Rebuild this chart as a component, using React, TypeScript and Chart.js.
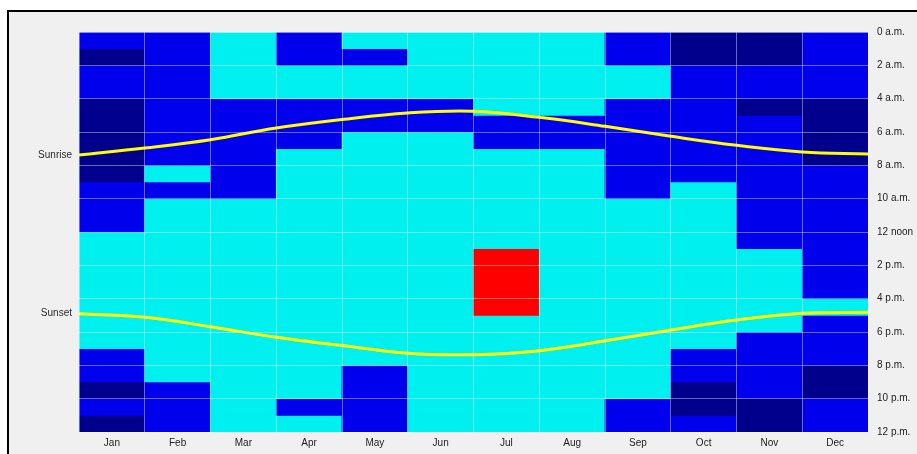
import React, { useEffect, useRef } from "react";
import { Chart, registerables } from "chart.js";

Chart.register(...registerables);

// Month columns and the hour labels on the right-hand axis (every 2 hours)
const months = ["Jan", "Feb", "Mar", "Apr", "May", "Jun", "Jul", "Aug", "Sep", "Oct", "Nov", "Dec"];
const hourLabels = [
  "0 a.m.", "2 a.m.", "4 a.m.", "6 a.m.", "8 a.m.", "10 a.m.", "12 noon",
  "2 p.m.", "4 p.m.", "6 p.m.", "8 p.m.", "10 p.m.", "12 p.m.",
];

// Hourly zone for each month, hour 0 .. 23
// 0 = comfortable, 1 = cool, 2 = cold, 3 = hot
const jan = [1, 2, 1, 1, 2, 2, 2, 2, 2, 1, 1, 1, 0, 0, 0, 0, 0, 0, 0, 1, 1, 2, 1, 2];
const feb = [1, 1, 1, 1, 1, 1, 1, 1, 0, 1, 0, 0, 0, 0, 0, 0, 0, 0, 0, 0, 0, 1, 1, 1];
const mar = [0, 0, 0, 0, 1, 1, 1, 1, 1, 1, 0, 0, 0, 0, 0, 0, 0, 0, 0, 0, 0, 0, 0, 0];
const apr = [1, 1, 0, 0, 1, 1, 1, 0, 0, 0, 0, 0, 0, 0, 0, 0, 0, 0, 0, 0, 0, 0, 1, 0];
const may = [0, 1, 0, 0, 1, 1, 0, 0, 0, 0, 0, 0, 0, 0, 0, 0, 0, 0, 0, 0, 1, 1, 1, 1];
const jun = [0, 0, 0, 0, 1, 1, 0, 0, 0, 0, 0, 0, 0, 0, 0, 0, 0, 0, 0, 0, 0, 0, 0, 0];
const jul = [0, 0, 0, 0, 0, 1, 1, 0, 0, 0, 0, 0, 0, 3, 3, 3, 3, 0, 0, 0, 0, 0, 0, 0];
const aug = [0, 0, 0, 0, 0, 1, 1, 0, 0, 0, 0, 0, 0, 0, 0, 0, 0, 0, 0, 0, 0, 0, 0, 0];
const sep = [1, 1, 0, 0, 1, 1, 1, 1, 1, 1, 0, 0, 0, 0, 0, 0, 0, 0, 0, 0, 0, 0, 1, 1];
const oct = [2, 2, 1, 1, 1, 1, 1, 1, 1, 0, 0, 0, 0, 0, 0, 0, 0, 0, 0, 1, 1, 2, 2, 1];
const nov = [2, 2, 1, 1, 2, 1, 1, 1, 1, 1, 1, 1, 1, 0, 0, 0, 0, 0, 1, 1, 1, 1, 2, 2];
const dec = [1, 1, 1, 1, 2, 2, 2, 2, 1, 1, 1, 1, 1, 1, 1, 1, 0, 1, 1, 1, 2, 2, 1, 1];

// Sunrise / sunset time (decimal hours) at each month boundary, Jan 1 .. Dec 31
const sunrise = [7.38, 6.96, 6.46, 5.76, 5.25, 4.86, 4.76, 5.12, 5.66, 6.26, 6.8, 7.2, 7.32];
const sunset = [16.9, 17.12, 17.68, 18.32, 18.81, 19.28, 19.36, 19.12, 18.53, 17.88, 17.28, 16.88, 16.82];

const monthZones = [jan, feb, mar, apr, may, jun, jul, aug, sep, oct, nov, dec];
const zoneColors = ["#00F0F0", "#0000EC", "#00008C", "#FF0000"];

const FONT = '"Liberation Sans", Arial, sans-serif';

// Writes the line names ("Sunrise", "Sunset") just left of where each line starts
const lineNames = {
  id: "lineNames",
  afterDatasetsDraw(chart: any) {
    const ctx = chart.ctx;
    chart.data.datasets.forEach((ds: any, i: number) => {
      if (ds.type !== "line") return;
      const first = chart.getDatasetMeta(i).data[0];
      if (!first) return;
      ctx.save();
      ctx.font = `10px ${FONT}`;
      ctx.fillStyle = "#2a2a2a";
      ctx.textAlign = "right";
      ctx.textBaseline = "middle";
      ctx.fillText(ds.label, first.x - 7, first.y);
      ctx.restore();
    });
  },
};

export default function App() {
  const canvasRef = useRef<HTMLCanvasElement>(null);

  useEffect(() => {
    const canvas = canvasRef.current;
    if (!canvas) return;

    const hours = Array.from({ length: 24 }, (_, h) => h);

    // one floating-bar dataset per hour row, coloured per month
    const cellSets = hours.map((h) => ({
      type: "bar",
      label: `h${h}`,
      data: months.map(() => [h, h + 1]),
      backgroundColor: monthZones.map((zones) => zoneColors[zones[h]]),
      borderWidth: 0,
      grouped: false,
      categoryPercentage: 1,
      barPercentage: 1,
      xAxisID: "x",
      yAxisID: "y",
      order: 2,
    }));

    const curve = (label: string, values: number[]) => ({
      type: "line",
      label,
      data: values.map((v, i) => ({ x: i, y: v })),
      borderColor: "#FFFF00",
      borderWidth: 3,
      pointRadius: 0,
      tension: 0.4,
      fill: false,
      clip: 4,
      xAxisID: "xl",
      yAxisID: "y",
      order: 1,
    });

    const chart = new Chart(canvas, {
      type: "bar",
      data: {
        labels: months,
        datasets: [...cellSets, curve("Sunrise", sunrise), curve("Sunset", sunset)] as any,
      },
      options: {
        animation: false,
        responsive: false,
        maintainAspectRatio: false,
        layout: { padding: { left: 70, top: 20, right: 0, bottom: 0 } },
        plugins: {
          legend: { display: false },
          tooltip: { enabled: false },
        },
        scales: {
          x: {
            type: "category",
            offset: true,
            grid: {
              offset: true,
              color: "rgba(255,255,255,0.4)",
              lineWidth: 1,
              drawTicks: false,
              z: 1,
            },
            border: { display: false },
            ticks: {
              padding: 5,
              color: "#222",
              font: { family: FONT, size: 10 },
              maxRotation: 0,
            },
            afterFit: (s: any) => {
              s.height = 22;
            },
          },
          xl: {
            type: "linear",
            min: 0,
            max: 12,
            offset: false,
            display: false,
            grid: { offset: false },
          },
          y: {
            type: "linear",
            position: "right",
            reverse: true,
            min: 0,
            max: 24,
            grid: {
              color: "rgba(255,255,255,0.4)",
              lineWidth: 1,
              drawTicks: false,
              z: 1,
            },
            border: { display: false },
            ticks: {
              stepSize: 2,
              autoSkip: false,
              padding: 9,
              color: "#222",
              font: { family: FONT, size: 10 },
              callback: (v: any) => hourLabels[Math.round(Number(v) / 2)],
            },
            afterFit: (s: any) => {
              s.width = 49;
            },
          },
        },
      } as any,
      plugins: [lineNames],
    });

    return () => chart.destroy();
  }, []);

  return (
    <div
      style={{
        position: "fixed",
        left: 7,
        top: 10,
        width: 920,
        height: 450,
        border: "2px solid #000",
        background: "#F0F0F0",
      }}
    >
      <canvas ref={canvasRef} width={908} height={442} style={{ display: "block" }} />
    </div>
  );
}
